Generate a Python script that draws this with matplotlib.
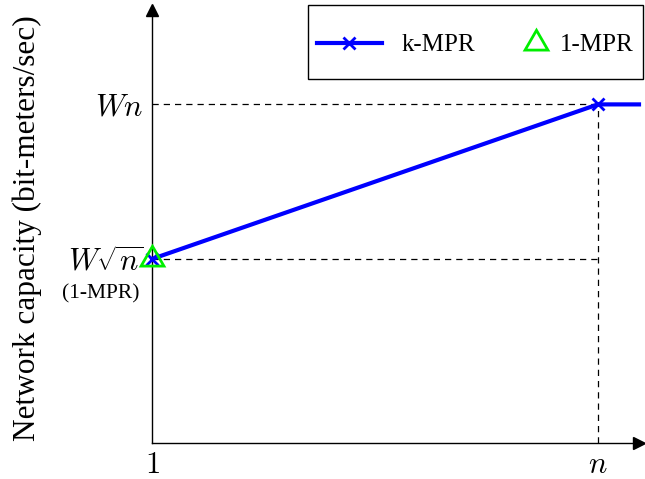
import matplotlib.pyplot as plt
from matplotlib.legend_handler import HandlerLine2D
from matplotlib.patches import Rectangle

plt.rcParams['font.family'] = ['Liberation Serif', 'DejaVu Serif']
plt.rcParams['mathtext.fontset'] = 'cm'

# abstract axis positions
x_one = 1.0
x_n = 10.0
x_end = 10.83
y_sqrt = 1.0     # W*sqrt(n)
y_lin = 1.84     # W*n

kmpr_x = [x_one, x_n, x_end]
kmpr_y = [y_sqrt, y_lin, y_lin]
one_mpr_x = [x_one]
one_mpr_y = [y_sqrt]

xticks = [x_one, x_n]
xtick_labels = ['$1$', '$n$']
yticks = [y_lin, y_sqrt]
ytick_labels = ['$Wn$', '$W\\sqrt{n}$']


class MarkRightHandler(HandlerLine2D):
    # marker-only entry: push the mark to the right end of the handle box
    def create_artists(self, legend, orig_handle, xdescent, ydescent,
                       width, height, fontsize, trans):
        arts = super().create_artists(legend, orig_handle, xdescent, ydescent,
                                      width, height, fontsize, trans)
        for a in arts:
            a.set_xdata([x + width / 2 - 3 for x in a.get_xdata()])
        return arts


fig = plt.figure(figsize=(6.45, 4.79), dpi=100)
ax = fig.add_axes([152 / 645, 36 / 479, 487 / 645, 433 / 479])
ax.set_xlim(1, 10.83)
ax.set_ylim(0, 2.353)

for s in ['top', 'right']:
    ax.spines[s].set_visible(False)
ax.spines['left'].set_linewidth(1)
ax.spines['bottom'].set_linewidth(1)
# arrow heads on the axes
ax.plot(1, 0, '>k', transform=ax.transAxes, clip_on=False, ms=8)
ax.plot(0, 1, '^k', transform=ax.transAxes, clip_on=False, ms=8)

# guide lines
ax.plot([x_one, x_n], [y_lin, y_lin], 'k--', lw=0.9, dashes=(5, 4))
ax.plot([x_one, x_n], [y_sqrt, y_sqrt], 'k--', lw=0.9, dashes=(5, 4))
ax.plot([x_n, x_n], [0, y_lin], 'k--', lw=0.9, dashes=(5, 4))

ax.plot(kmpr_x, kmpr_y, color='blue', lw=3, marker='x', ms=9, mew=2,
        markevery=[0, 1], label='k-MPR', clip_on=False, zorder=4)
tri, = ax.plot(one_mpr_x, one_mpr_y, ls='none', marker=(3, 0, 0), ms=19,
               mfc='none', mec='#00ee00', mew=2, label='1-MPR',
               clip_on=False, zorder=5)

ax.set_xticks(xticks)
ax.set_xticklabels(xtick_labels, fontsize=22)
ax.set_yticks(yticks)
ax.set_yticklabels(ytick_labels, fontsize=22)
ax.tick_params(length=0, pad=6)
ax.text(-0.025, y_sqrt - 0.19, '(1-MPR)', transform=ax.get_yaxis_transform(),
        ha='right', va='center', fontsize=15.5)

ax.set_ylabel('Network capacity (bit-meters/sec)', fontsize=22.5)
ax.yaxis.set_label_coords(-0.226, 0.497)

# legend frame drawn separately (wide, with more room above/below)
ax.add_patch(Rectangle((0.320, 0.841), 0.688, 0.171, transform=ax.transAxes,
                       facecolor='white', edgecolor='black', lw=1,
                       clip_on=False, zorder=6))
leg = ax.legend(loc='center', ncol=2, fontsize=18, frameon=False,
                handlelength=2.6, columnspacing=0.0, handletextpad=0.8,
                borderpad=0.2, bbox_to_anchor=(0.664, 0.919),
                handler_map={tri: MarkRightHandler()})
leg.set_zorder(7)

fig.savefig('out.png', dpi=100)
